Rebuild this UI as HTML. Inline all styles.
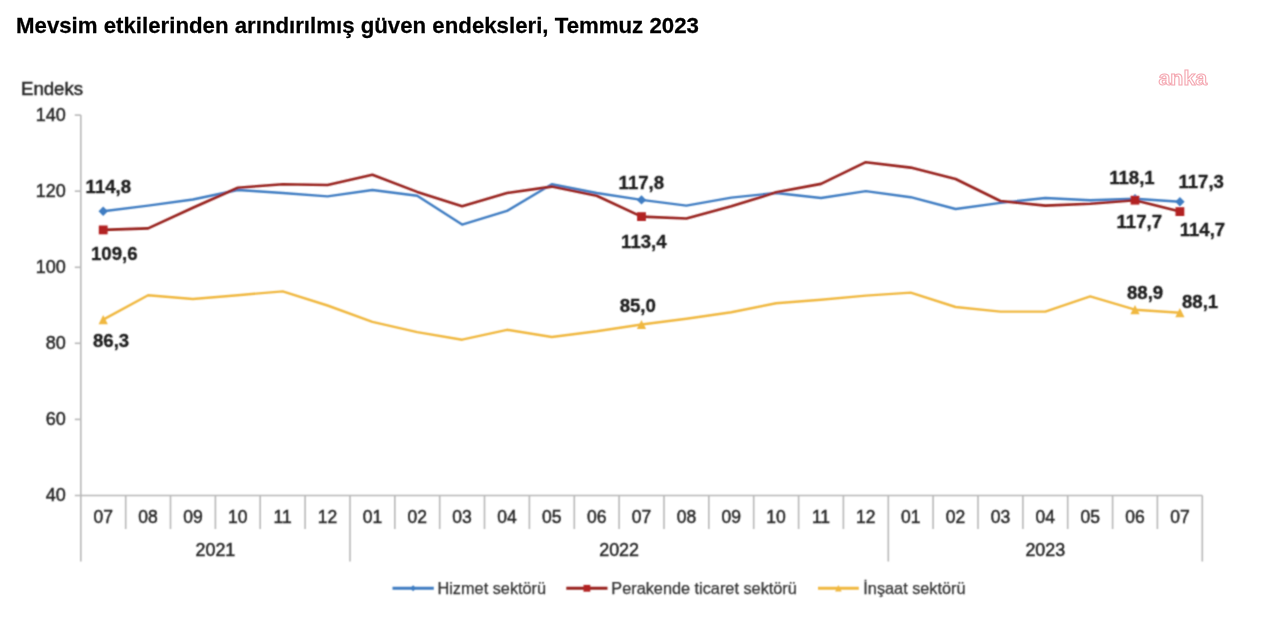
<!DOCTYPE html>
<html lang="tr"><head><meta charset="utf-8"><title>Mevsim etkilerinden arındırılmış güven endeksleri</title>
<style>
html,body{margin:0;padding:0;background:#fff;}
body{width:1280px;height:631px;position:relative;overflow:hidden;font-family:"Liberation Sans",Arial,sans-serif;}
h1{position:absolute;left:16px;top:11.7px;margin:0;font-size:22.2px;line-height:28px;font-weight:bold;color:#000;white-space:nowrap;transform-origin:0 21.7px;transform:scale(1.002,1.03);-webkit-text-stroke:0.25px #000;}
</style></head><body>
<h1>Mevsim etkilerinden arındırılmış güven endeksleri, Temmuz 2023</h1>
<svg width="1280" height="631" viewBox="0 0 1280 631" style="position:absolute;left:0;top:0">
<g id="chart" filter="url(#bl)">
<g stroke="#b8b8b8" stroke-width="1.6" fill="none">
<line x1="80.8" y1="115.1" x2="80.8" y2="561.5"/>
<line x1="74.8" y1="495.5" x2="1202.3" y2="495.5"/>
<line x1="74.8" y1="115.1" x2="80.8" y2="115.1"/>
<line x1="74.8" y1="191.2" x2="80.8" y2="191.2"/>
<line x1="74.8" y1="267.3" x2="80.8" y2="267.3"/>
<line x1="74.8" y1="343.3" x2="80.8" y2="343.3"/>
<line x1="74.8" y1="419.4" x2="80.8" y2="419.4"/>
<line x1="125.7" y1="495.5" x2="125.7" y2="529"/>
<line x1="170.5" y1="495.5" x2="170.5" y2="529"/>
<line x1="215.4" y1="495.5" x2="215.4" y2="529"/>
<line x1="260.2" y1="495.5" x2="260.2" y2="529"/>
<line x1="305.1" y1="495.5" x2="305.1" y2="529"/>
<line x1="350.0" y1="495.5" x2="350.0" y2="561.5"/>
<line x1="394.8" y1="495.5" x2="394.8" y2="529"/>
<line x1="439.7" y1="495.5" x2="439.7" y2="529"/>
<line x1="484.5" y1="495.5" x2="484.5" y2="529"/>
<line x1="529.4" y1="495.5" x2="529.4" y2="529"/>
<line x1="574.3" y1="495.5" x2="574.3" y2="529"/>
<line x1="619.1" y1="495.5" x2="619.1" y2="529"/>
<line x1="664.0" y1="495.5" x2="664.0" y2="529"/>
<line x1="708.8" y1="495.5" x2="708.8" y2="529"/>
<line x1="753.7" y1="495.5" x2="753.7" y2="529"/>
<line x1="798.6" y1="495.5" x2="798.6" y2="529"/>
<line x1="843.4" y1="495.5" x2="843.4" y2="529"/>
<line x1="888.3" y1="495.5" x2="888.3" y2="561.5"/>
<line x1="933.1" y1="495.5" x2="933.1" y2="529"/>
<line x1="978.0" y1="495.5" x2="978.0" y2="529"/>
<line x1="1022.9" y1="495.5" x2="1022.9" y2="529"/>
<line x1="1067.7" y1="495.5" x2="1067.7" y2="529"/>
<line x1="1112.6" y1="495.5" x2="1112.6" y2="529"/>
<line x1="1157.4" y1="495.5" x2="1157.4" y2="529"/>
<line x1="1202.3" y1="495.5" x2="1202.3" y2="561.5"/>
</g>
<g font-family="Liberation Sans, Arial, sans-serif" font-size="17.5" fill="#262626" stroke="#262626" stroke-width="0.45">
<text x="65.8" y="121.0" text-anchor="end" textLength="30.0" lengthAdjust="spacingAndGlyphs">140</text>
<text x="65.8" y="197.1" text-anchor="end" textLength="30.0" lengthAdjust="spacingAndGlyphs">120</text>
<text x="65.8" y="273.2" text-anchor="end" textLength="30.0" lengthAdjust="spacingAndGlyphs">100</text>
<text x="65.8" y="349.2" text-anchor="end" textLength="20.0" lengthAdjust="spacingAndGlyphs">80</text>
<text x="65.8" y="425.3" text-anchor="end" textLength="20.0" lengthAdjust="spacingAndGlyphs">60</text>
<text x="65.8" y="501.4" text-anchor="end" textLength="20.0" lengthAdjust="spacingAndGlyphs">40</text>
<text x="21" y="94.8" font-size="18.6">Endeks</text>
<text x="103.2" y="523.4" text-anchor="middle">07</text>
<text x="148.1" y="523.4" text-anchor="middle">08</text>
<text x="192.9" y="523.4" text-anchor="middle">09</text>
<text x="237.8" y="523.4" text-anchor="middle">10</text>
<text x="282.7" y="523.4" text-anchor="middle">11</text>
<text x="327.5" y="523.4" text-anchor="middle">12</text>
<text x="372.4" y="523.4" text-anchor="middle">01</text>
<text x="417.2" y="523.4" text-anchor="middle">02</text>
<text x="462.1" y="523.4" text-anchor="middle">03</text>
<text x="507.0" y="523.4" text-anchor="middle">04</text>
<text x="551.8" y="523.4" text-anchor="middle">05</text>
<text x="596.7" y="523.4" text-anchor="middle">06</text>
<text x="641.5" y="523.4" text-anchor="middle">07</text>
<text x="686.4" y="523.4" text-anchor="middle">08</text>
<text x="731.3" y="523.4" text-anchor="middle">09</text>
<text x="776.1" y="523.4" text-anchor="middle">10</text>
<text x="821.0" y="523.4" text-anchor="middle">11</text>
<text x="865.8" y="523.4" text-anchor="middle">12</text>
<text x="910.7" y="523.4" text-anchor="middle">01</text>
<text x="955.6" y="523.4" text-anchor="middle">02</text>
<text x="1000.4" y="523.4" text-anchor="middle">03</text>
<text x="1045.3" y="523.4" text-anchor="middle">04</text>
<text x="1090.2" y="523.4" text-anchor="middle">05</text>
<text x="1135.0" y="523.4" text-anchor="middle">06</text>
<text x="1179.9" y="523.4" text-anchor="middle">07</text>
<text x="215.4" y="556.1" text-anchor="middle" textLength="39.8" lengthAdjust="spacingAndGlyphs">2021</text>
<text x="619.1" y="556.1" text-anchor="middle" textLength="39.8" lengthAdjust="spacingAndGlyphs">2022</text>
<text x="1045.3" y="556.1" text-anchor="middle" textLength="39.8" lengthAdjust="spacingAndGlyphs">2023</text>
</g>
<polyline points="103.2,319.6 148.1,295.2 192.9,299.0 237.8,295.2 282.7,291.4 327.5,305.5 372.4,321.8 417.2,332.1 462.1,339.7 507.0,329.8 551.8,337.0 596.7,331.3 641.5,324.5 686.4,318.8 731.3,312.3 776.1,303.2 821.0,299.8 865.8,295.6 910.7,292.6 955.6,307.0 1000.4,311.6 1045.3,311.6 1090.2,296.4 1135.0,309.7 1179.9,312.7" fill="none" stroke="#f0b840" stroke-width="2.4" stroke-linejoin="round" stroke-linecap="round"/>
<polyline points="103.2,211.3 148.1,205.6 192.9,199.5 237.8,190.0 282.7,193.0 327.5,196.4 372.4,190.0 417.2,195.7 462.1,224.6 507.0,210.9 551.8,184.3 596.7,193.0 641.5,199.9 686.4,205.6 731.3,197.6 776.1,193.0 821.0,198.0 865.8,191.1 910.7,197.2 955.6,209.0 1000.4,202.9 1045.3,198.0 1090.2,200.2 1135.0,198.7 1179.9,201.8" fill="none" stroke="#3f7dc2" stroke-width="2.4" stroke-linejoin="round" stroke-linecap="round"/>
<polyline points="103.2,229.9 148.1,228.4 192.9,207.8 237.8,187.7 282.7,184.3 327.5,185.0 372.4,174.8 417.2,191.9 462.1,206.3 507.0,193.0 551.8,186.6 596.7,195.7 641.5,216.6 686.4,218.5 731.3,206.3 776.1,192.3 821.0,183.9 865.8,162.2 910.7,167.6 955.6,179.0 1000.4,201.0 1045.3,205.6 1090.2,203.7 1135.0,200.2 1179.9,211.6" fill="none" stroke="#98211f" stroke-width="2.6" stroke-linejoin="round" stroke-linecap="round"/>
<path d="M103.2,315.0 L107.8,324.2 L98.6,324.2Z" fill="#f0b840" stroke="none"/>
<path d="M98.5,211.3 L103.2,206.6 L107.9,211.3 L103.2,216.0Z" fill="#3f7dc2" stroke="none"/>
<rect x="98.8" y="225.5" width="8.8" height="8.8" fill="#b22222" stroke="none"/>
<path d="M641.5,319.9 L646.1,329.1 L636.9,329.1Z" fill="#f0b840" stroke="none"/>
<path d="M636.8,199.9 L641.5,195.2 L646.2,199.9 L641.5,204.6Z" fill="#3f7dc2" stroke="none"/>
<rect x="637.1" y="212.2" width="8.8" height="8.8" fill="#b22222" stroke="none"/>
<path d="M1135.0,305.1 L1139.6,314.3 L1130.4,314.3Z" fill="#f0b840" stroke="none"/>
<path d="M1130.3,198.7 L1135.0,194.0 L1139.7,198.7 L1135.0,203.4Z" fill="#3f7dc2" stroke="none"/>
<rect x="1130.6" y="195.8" width="8.8" height="8.8" fill="#b22222" stroke="none"/>
<path d="M1179.9,308.1 L1184.5,317.3 L1175.3,317.3Z" fill="#f0b840" stroke="none"/>
<path d="M1175.2,201.8 L1179.9,197.1 L1184.6,201.8 L1179.9,206.5Z" fill="#3f7dc2" stroke="none"/>
<rect x="1175.5" y="207.2" width="8.8" height="8.8" fill="#b22222" stroke="none"/>
<g font-family="Liberation Sans, Arial, sans-serif" font-size="18.6" font-weight="bold" fill="#1c1c1c" stroke="#1c1c1c" stroke-width="0.3">
<text x="85.6" y="193.4">114,8</text>
<text x="91.0" y="259.9">109,6</text>
<text x="93.0" y="347.1">86,3</text>
<text x="618.6" y="188.6">117,8</text>
<text x="621.1" y="247.5">113,4</text>
<text x="619.7" y="312">85,0</text>
<text x="1109.2" y="184.1">118,1</text>
<text x="1178.4" y="188">117,3</text>
<text x="1116.5" y="228.3">117,7</text>
<text x="1179.7" y="235.8">114,7</text>
<text x="1127.0" y="299">88,9</text>
<text x="1182.0" y="308">88,1</text>
</g>
<g font-family="Liberation Sans, Arial, sans-serif" font-size="16.3" fill="#333" stroke="#333" stroke-width="0.25">
<line x1="392.5" y1="588.3" x2="433.8" y2="588.3" stroke="#3f7dc2" stroke-width="2.9"/>
<path d="M410.1,588.3 L413.1,585.3 L416.1,588.3 L413.1,591.3Z" fill="#3f7dc2" stroke="none"/>
<text x="437.5" y="593.9">Hizmet sektörü</text>
<line x1="566.3" y1="588.3" x2="607.5" y2="588.3" stroke="#98211f" stroke-width="2.9"/>
<rect x="583.5" y="584.9" width="6.8" height="6.8" fill="#b22222" stroke="none"/>
<text x="611.3" y="593.9">Perakende ticaret sektörü</text>
<line x1="818" y1="588.3" x2="858.8" y2="588.3" stroke="#f0b840" stroke-width="2.9"/>
<path d="M838.4,585.0 L841.7,591.6 L835.1,591.6Z" fill="#f0b840" stroke="none"/>
<text x="863.3" y="593.9">İnşaat sektörü</text>
</g>
</g>
<text x="1158.5" y="85.2" font-family="Liberation Sans, Arial, sans-serif" font-weight="bold" font-size="19.6" textLength="48.6" lengthAdjust="spacingAndGlyphs" fill="#fff" stroke="#f4a6b0" stroke-width="1" filter="url(#bl2)">anka</text>
<defs><filter id="bl" x="0" y="0" width="1280" height="631" filterUnits="userSpaceOnUse"><feConvolveMatrix order="3" kernelMatrix="0.0484 0.1232 0.0484 0.1232 0.3136 0.1232 0.0484 0.1232 0.0484" divisor="1" edgeMode="duplicate"/></filter><filter id="bl2"><feGaussianBlur stdDeviation="0.4"/></filter></defs>
</svg>
</body></html>
